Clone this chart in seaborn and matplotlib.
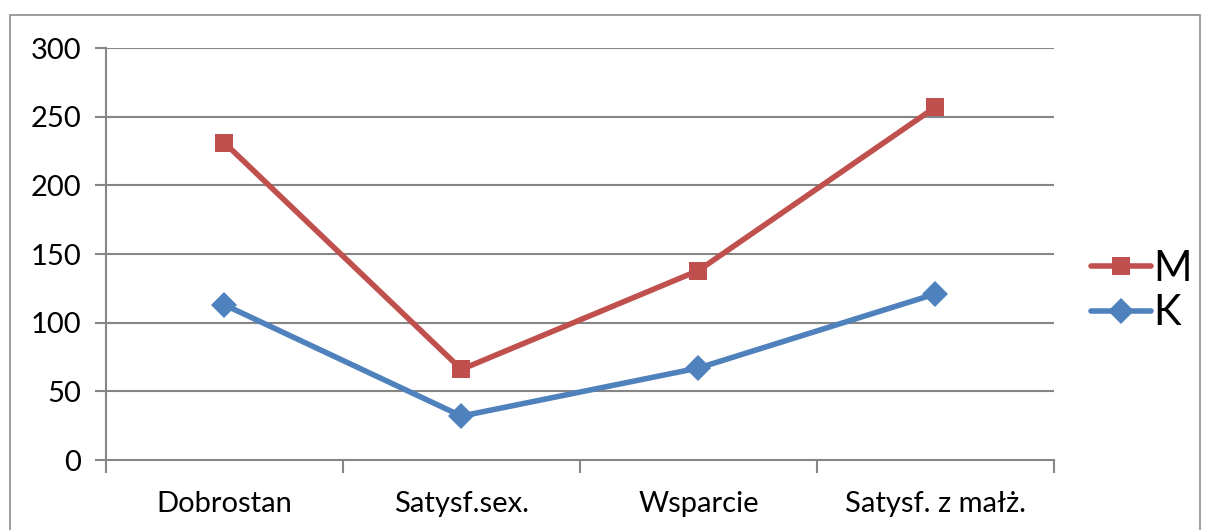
import pandas as pd
import matplotlib.pyplot as plt
import seaborn as sns
from matplotlib.patches import Rectangle
from matplotlib.ticker import FixedLocator

# data
categories = ['Dobrostan', 'Satysf.sex.', 'Wsparcie', 'Satysf. z małż.']
m_values = [231, 66, 138, 257]
k_values = [113, 32, 67, 121]
series_names = ['M', 'K']

df = pd.DataFrame({
    'kategoria': categories * 2,
    'wartosc': m_values + k_values,
    'grupa': [series_names[0]] * 4 + [series_names[1]] * 4,
})
df['x'] = df['kategoria'].map({c: i for i, c in enumerate(categories)})

sns.set_style('white')
plt.rcParams['font.family'] = ['Lato', 'DejaVu Sans']
plt.rcParams['text.color'] = 'black'
plt.rcParams['xtick.labelcolor'] = 'black'
plt.rcParams['ytick.labelcolor'] = 'black'

fig = plt.figure(figsize=(12.08, 5.30), dpi=100)
ax = fig.add_axes([0.0877, 0.132, 0.7848, 0.7774])

# outer chart frame like an Excel chart area
fig.patches.append(Rectangle((10 / 1208, -0.01), 1190 / 1208, (530 - 15) / 530 + 0.01,
                             transform=fig.transFigure, fill=False,
                             edgecolor='#8c8c8c', linewidth=1.2))

grid_c = '#868686'
for y in range(50, 301, 50):
    ax.axhline(y, color=grid_c, linewidth=1.5, zorder=0)

palette = {'M': '#C0504D', 'K': '#4F81BD'}
sns.lineplot(data=df, x='x', y='wartosc', hue='grupa', style='grupa',
             hue_order=series_names, style_order=series_names,
             palette=palette, markers={'M': 's', 'K': 'D'}, dashes=False,
             linewidth=4, markersize=13.5, markeredgewidth=0, ax=ax, zorder=3)
handles, labels = ax.get_legend_handles_labels()
ax.get_legend().remove()

ax.set_xlim(-0.5, 3.5)
ax.set_ylim(0, 300)
ax.set_yticks(range(0, 301, 50))
ax.set_xticks(range(len(categories)))
ax.set_xticklabels(categories)
ax.xaxis.set_minor_locator(FixedLocator([-0.5, 0.5, 1.5, 2.5, 3.5]))
ax.tick_params(axis='x', which='major', length=0, pad=22, labelsize=21)
ax.tick_params(axis='x', which='minor', length=9, width=1.5, color=grid_c, direction='out')
ax.tick_params(axis='y', length=8, width=1.5, color=grid_c, pad=10, labelsize=21)
ax.xaxis.set_tick_params(bottom=True, which='minor')
ax.yaxis.set_tick_params(left=True)
ax.set_xlabel('')
ax.set_ylabel('')

for side in ['top', 'right']:
    ax.spines[side].set_visible(False)
for side in ['left', 'bottom']:
    ax.spines[side].set_color(grid_c)
    ax.spines[side].set_linewidth(1.5)

fig.legend(handles, labels, loc='center left',
           bbox_to_anchor=(1091 / 1208, 1 - 291 / 530),
           frameon=False, fontsize=30, handlelength=1.45, handletextpad=0.05,
           labelspacing=0.15, borderpad=0, borderaxespad=0)

fig.savefig('out.png', dpi=100)
